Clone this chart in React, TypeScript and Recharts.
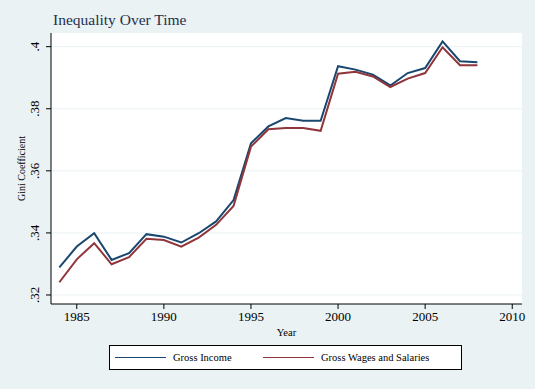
import React from 'react';
import { LineChart, Line, XAxis, YAxis, CartesianGrid } from 'recharts';

const years = [1984, 1985, 1986, 1987, 1988, 1989, 1990, 1991, 1992, 1993, 1994, 1995, 1996, 1997, 1998, 1999, 2000, 2001, 2002, 2003, 2004, 2005, 2006, 2007, 2008];
const grossIncome = [0.3289, 0.3356, 0.3399, 0.3313, 0.3335, 0.3396, 0.3388, 0.3369, 0.3399, 0.3437, 0.3506, 0.3689, 0.3743, 0.377, 0.3761, 0.3761, 0.3937, 0.3926, 0.391, 0.3875, 0.3915, 0.3931, 0.4017, 0.3953, 0.395];
const grossWages = [0.3241, 0.3315, 0.3367, 0.3299, 0.3322, 0.3381, 0.3377, 0.3356, 0.3385, 0.3426, 0.3487, 0.3678, 0.3734, 0.3738, 0.3738, 0.3729, 0.3913, 0.3919, 0.3904, 0.387, 0.3897, 0.3915, 0.3998, 0.394, 0.394];
const xTicks = [1985, 1990, 1995, 2000, 2005, 2010];
const yTicks = [0.32, 0.34, 0.36, 0.38, 0.4];

const seriesNames = ['Gross Income', 'Gross Wages and Salaries'];
const seriesColors = ['#1a476f', '#90353b'];

const data = years.map((year, i) => ({
  year,
  income: grossIncome[i],
  wages: grossWages[i],
}));

const FONT = '"Liberation Serif", "DejaVu Serif", serif';
const BG = '#eaf2f3';

// Stata prints .32 instead of 0.32
const fmtY = (v: number) => String(Number(v.toFixed(2))).replace(/^0/, '');

const YTick = (props: any) => {
  const { x, y, payload } = props;
  const tx = x - 5;
  return (
    <text x={tx} y={y} transform={`rotate(-90 ${tx} ${y})`} textAnchor="middle" fontFamily={FONT} fontSize={13} fill="#000">
      {fmtY(payload.value)}
    </text>
  );
};

const YLabel = (props: any) => {
  const { viewBox } = props;
  const cy = viewBox.y + viewBox.height / 2;
  return (
    <text x={25} y={cy} transform={`rotate(-90 25 ${cy})`} textAnchor="middle" fontFamily={FONT} fontSize={10} fill="#000">
      Gini Coefficient
    </text>
  );
};

const XLabel = (props: any) => {
  const { viewBox } = props;
  const cx = viewBox.x + viewBox.width / 2;
  return (
    <text x={cx} y={336} textAnchor="middle" fontFamily={FONT} fontSize={10.5} fill="#000">
      Year
    </text>
  );
};

const App = () => {
  return (
    <div style={{ position: 'absolute', left: 0, top: 0, width: 535, height: 389, background: BG, fontFamily: FONT }}>
      <div style={{ position: 'absolute', left: 53, top: 11, fontSize: 15.5, color: '#1f2f50', lineHeight: '18px' }}>
        Inequality Over Time
      </div>
      <LineChart width={535} height={389} data={data} margin={{ top: 33, right: 13, bottom: 55, left: 11 }}>
        <CartesianGrid vertical={false} stroke={BG} fill="#fff" horizontalValues={yTicks} />
        <XAxis
          dataKey="year"
          type="number"
          domain={[1983.52, 2010.56]}
          ticks={xTicks}
          allowDataOverflow
          height={30}
          tickSize={5}
          tickMargin={3}
          stroke="#000"
          tick={{ fontFamily: FONT, fontSize: 13, fill: '#000' }}
          label={<XLabel />}
        />
        <YAxis
          type="number"
          domain={[0.3171, 0.4044]}
          ticks={yTicks}
          allowDataOverflow
          width={40}
          tickSize={5}
          stroke="#000"
          tick={<YTick />}
          label={<YLabel />}
        />
        <Line dataKey="income" name={seriesNames[0]} stroke={seriesColors[0]} strokeWidth={2} dot={false} isAnimationActive={false} />
        <Line dataKey="wages" name={seriesNames[1]} stroke={seriesColors[1]} strokeWidth={2} dot={false} isAnimationActive={false} />
      </LineChart>
      <div style={{ position: 'absolute', left: 109, top: 345, width: 353, height: 25, border: '1px solid #000', background: '#fff', boxSizing: 'border-box' }}>
        {seriesNames.map((name, i) => (
          <div key={name} style={{ position: 'absolute', left: i === 0 ? 5 : 153, top: 0, height: 23, display: 'flex', alignItems: 'center', fontSize: 10.5 }}>
            <span style={{ display: 'inline-block', width: 51, height: 0, borderTop: `1px solid ${seriesColors[i]}`, marginRight: 7 }} />
            <span>{name}</span>
          </div>
        ))}
      </div>
    </div>
  );
};

export default App;
